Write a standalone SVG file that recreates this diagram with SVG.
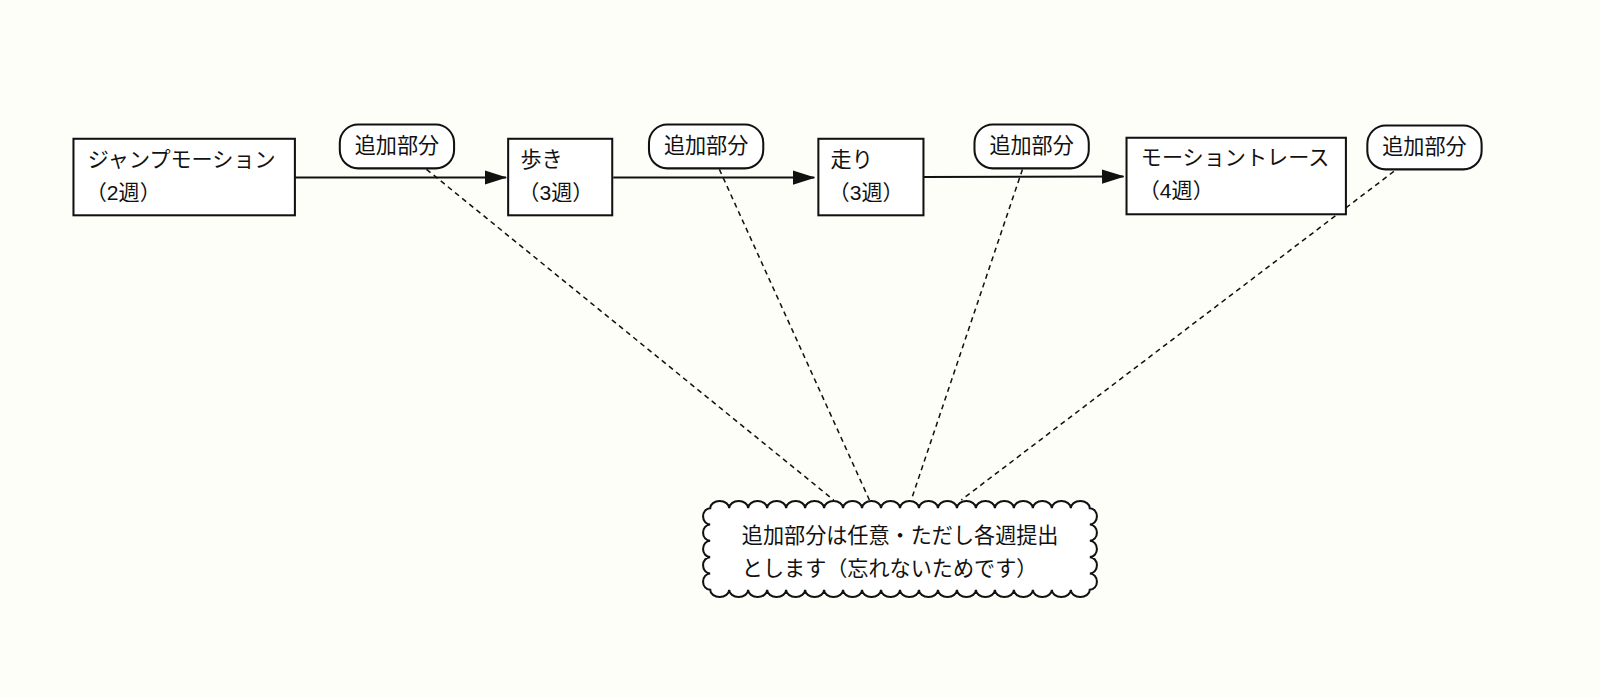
<svg xmlns="http://www.w3.org/2000/svg" width="1600" height="698" viewBox="0 0 1600 698">
<style>
text{font-family:"Liberation Sans","Noto Sans CJK JP",sans-serif;font-size:20.7px;fill:#111}
.b{fill:#fff;stroke:#111;stroke-width:2}
.d{stroke:#111;stroke-width:1.5;stroke-dasharray:5,4;fill:none}
.a{stroke:#111;stroke-width:2;fill:none;marker-end:url(#ar)}
</style>
<defs><marker id="ar" markerWidth="22" markerHeight="14" refX="21" refY="7" orient="auto" markerUnits="userSpaceOnUse"><path d="M0,0L22,7L0,14z" fill="#111"/></marker></defs>
<rect width="1600" height="698" fill="#fefef8"/>
<g transform="scale(1.0204)">
<g id="connectors">
<path class="a" d="M289,174H496"/>
<path class="a" d="M601,174H798"/>
<path class="a" d="M905,173.5L1101,173"/>
<path class="d" d="M418,166L817,490"/>
<path class="d" d="M705,166L852,490"/>
<path class="d" d="M1002,166L893,490"/>
<path class="d" d="M1366,168L942,490"/>
</g>
<g id="n1"><rect class="b" x="72" y="136" width="217" height="75"/><text x="86" y="164">ジャンプモーション</text><text x="84" y="196">（2週）</text></g>
<g id="n2"><rect class="b" x="498" y="136" width="102" height="75"/><text x="510" y="164">歩き</text><text x="508" y="196">（3週）</text></g>
<g id="n3"><rect class="b" x="802" y="136" width="103" height="75"/><text x="814" y="164">走り</text><text x="812" y="196">（3週）</text></g>
<g id="n4"><rect class="b" x="1104" y="135" width="215" height="75"/><text x="1118" y="162">モーショントレース</text><text x="1116" y="194">（4週）</text></g>
<g id="p1"><rect class="b" x="333" y="122" width="112" height="43" rx="18"/><text x="389" y="150" text-anchor="middle">追加部分</text></g>
<g id="p2"><rect class="b" x="636" y="122" width="112" height="43" rx="18"/><text x="692" y="150" text-anchor="middle">追加部分</text></g>
<g id="p3"><rect class="b" x="955" y="122" width="112" height="43" rx="18"/><text x="1011" y="150" text-anchor="middle">追加部分</text></g>
<g id="p4"><rect class="b" x="1340" y="123" width="112" height="43" rx="18"/><text x="1396" y="151" text-anchor="middle">追加部分</text></g>
<g id="cloud">
<path class="b" d="M696,498 a9.3,7 0 0 1 18.6,0 a9.3,7 0 0 1 18.6,0 a9.3,7 0 0 1 18.6,0 a9.3,7 0 0 1 18.6,0 a9.3,7 0 0 1 18.6,0 a9.3,7 0 0 1 18.6,0 a9.3,7 0 0 1 18.6,0 a9.3,7 0 0 1 18.6,0 a9.3,7 0 0 1 18.6,0 a9.3,7 0 0 1 18.6,0 a9.3,7 0 0 1 18.6,0 a9.3,7 0 0 1 18.6,0 a9.3,7 0 0 1 18.6,0 a9.3,7 0 0 1 18.6,0 a9.3,7 0 0 1 18.6,0 a9.3,7 0 0 1 18.6,0 a9.3,7 0 0 1 18.6,0 a9.3,7 0 0 1 18.6,0 a9.3,7 0 0 1 18.6,0 a9.3,7 0 0 1 18.6,0
a7,8 0 0 1 0,16 a7,8 0 0 1 0,16 a7,8 0 0 1 0,16 a7,8 0 0 1 0,16 a7,8 0 0 1 0,16
a9.3,7 0 0 1 -18.6,0 a9.3,7 0 0 1 -18.6,0 a9.3,7 0 0 1 -18.6,0 a9.3,7 0 0 1 -18.6,0 a9.3,7 0 0 1 -18.6,0 a9.3,7 0 0 1 -18.6,0 a9.3,7 0 0 1 -18.6,0 a9.3,7 0 0 1 -18.6,0 a9.3,7 0 0 1 -18.6,0 a9.3,7 0 0 1 -18.6,0 a9.3,7 0 0 1 -18.6,0 a9.3,7 0 0 1 -18.6,0 a9.3,7 0 0 1 -18.6,0 a9.3,7 0 0 1 -18.6,0 a9.3,7 0 0 1 -18.6,0 a9.3,7 0 0 1 -18.6,0 a9.3,7 0 0 1 -18.6,0 a9.3,7 0 0 1 -18.6,0 a9.3,7 0 0 1 -18.6,0 a9.3,7 0 0 1 -18.6,0
a7,8 0 0 1 0,-16 a7,8 0 0 1 0,-16 a7,8 0 0 1 0,-16 a7,8 0 0 1 0,-16 a7,8 0 0 1 0,-16z"/>
<text x="727" y="532">追加部分は任意・ただし各週提出</text>
<text x="727" y="564">とします（忘れないためです）</text>
</g>
</g>
</svg>
